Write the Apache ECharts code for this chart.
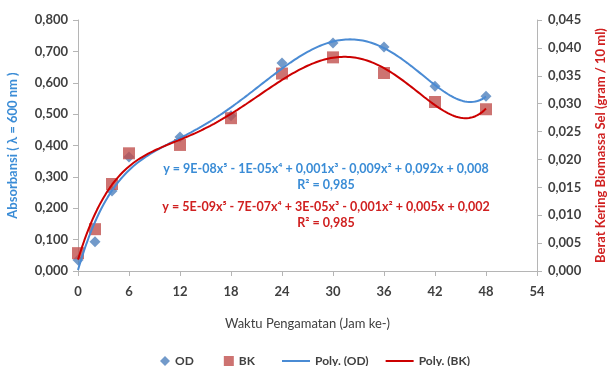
<!DOCTYPE html>
<html>
<head>
<meta charset="utf-8">
<script src="https://cdn.jsdelivr.net/npm/echarts@6/dist/echarts.min.js"></script>
<style>
html,body{margin:0;padding:0;background:#fff;}
#chart{width:608px;height:366px;}
</style>
</head>
<body>
<div id="chart"></div>
<script>
// ---- data ----
const hours = [0, 2, 4, 6, 12, 18, 24, 30, 36, 42, 48];
const odValues = [0.035, 0.093, 0.255, 0.363, 0.427, 0.495, 0.663, 0.727, 0.714, 0.589, 0.557];
const bkValues = [0.0032, 0.0075, 0.0156, 0.0211, 0.0226, 0.0274, 0.0354, 0.0383, 0.0355, 0.0303, 0.0290];
const xTicks = [0, 6, 12, 18, 24, 30, 36, 42, 48, 54];
const odEquation = 'y = 9E-08x\u2075 - 1E-05x\u2074 + 0,001x\u00b3 - 0,009x\u00b2 + 0,092x + 0,008';
const bkEquation = 'y = 5E-09x\u2075 - 7E-07x\u2074 + 3E-05x\u00b3 - 0,001x\u00b2 + 0,005x + 0,002';
const rSquaredText = 'R\u00b2 = 0,985';

// least-squares polynomial trendline (degree 5), like the spreadsheet's "Poly." trendline
function polyfit(xs, ys, deg) {
  const s = 48;
  const n = deg + 1;
  const A = [], b = [];
  for (let i = 0; i < n; i++) { A.push(new Array(n).fill(0)); b.push(0); }
  xs.forEach((x, k) => {
    const t = x / s;
    for (let i = 0; i < n; i++) {
      b[i] += Math.pow(t, i) * ys[k];
      for (let j = 0; j < n; j++) A[i][j] += Math.pow(t, i + j);
    }
  });
  for (let c = 0; c < n; c++) {
    let p = c;
    for (let r = c + 1; r < n; r++) if (Math.abs(A[r][c]) > Math.abs(A[p][c])) p = r;
    [A[c], A[p]] = [A[p], A[c]]; [b[c], b[p]] = [b[p], b[c]];
    for (let r = c + 1; r < n; r++) {
      const f = A[r][c] / A[c][c];
      for (let j = c; j < n; j++) A[r][j] -= f * A[c][j];
      b[r] -= f * b[c];
    }
  }
  const coef = new Array(n).fill(0);
  for (let i = n - 1; i >= 0; i--) {
    let v = b[i];
    for (let j = i + 1; j < n; j++) v -= A[i][j] * coef[j];
    coef[i] = v / A[i][i];
  }
  return x => coef.reduce((acc, c, i) => acc + c * Math.pow(x / s, i), 0);
}
const odFit = polyfit(hours, odValues, 5);
const bkFit = polyfit(hours, bkValues, 5);
const odCurve = [], bkCurve = [];
for (let x = 0; x <= 48.0001; x += 0.25) {
  odCurve.push([x, odFit(x)]);
  bkCurve.push([x, bkFit(x)]);
}

const FONT = 'Lato';
const BLUE = '#4F81BD';
const BLUE_LINE = '#4A8BD4';
const RED = '#C0504D';
const RED_LINE = '#CC0000';
const AXIS = '#B5B5B5';
const TEXT = '#404040';
const legendText = { color: TEXT, fontWeight: 'bold', fontSize: 12, fontFamily: FONT };

const chart = echarts.init(document.getElementById('chart'));
chart.setOption({
  animation: false,
  textStyle: { fontFamily: FONT },
  grid: { left: 78, right: 71, top: 20, bottom: 95, containLabel: false, outerBoundsMode: 'none' },
  xAxis: {
    type: 'value', min: 0, max: 54, interval: 6,
    name: 'Waktu Pengamatan (Jam ke-)', nameLocation: 'middle', nameGap: 46,
    nameTextStyle: { color: TEXT, fontSize: 13, fontFamily: FONT },
    axisLine: { show: true, lineStyle: { color: AXIS } },
    axisTick: { show: true, length: 5, lineStyle: { color: AXIS } },
    axisLabel: { color: TEXT, fontWeight: 'bold', fontSize: 13, margin: 14,
      formatter: v => xTicks.includes(v) ? String(v) : '' },
    splitLine: { show: false }
  },
  yAxis: [{
    type: 'value', min: 0, max: 0.8, interval: 0.1,
    name: 'Absorbansi ( \u03bb = 600 nm )', nameLocation: 'middle', nameGap: 59, nameRotate: 90,
    nameTextStyle: { color: '#3A8CD6', fontSize: 13, fontWeight: 'bold', fontFamily: FONT },
    axisLine: { show: true, lineStyle: { color: AXIS } },
    axisTick: { show: true, length: 5, lineStyle: { color: AXIS } },
    axisLabel: { color: TEXT, fontWeight: 'bold', fontSize: 13, margin: 10,
      formatter: v => v.toFixed(3).replace('.', ',') },
    splitLine: { show: false }
  }, {
    type: 'value', min: 0, max: 0.045, interval: 0.005, position: 'right',
    name: 'Berat Kering Biomassa Sel (gram / 10 ml)', nameLocation: 'middle', nameGap: 57, nameRotate: 90,
    nameTextStyle: { color: '#D02020', fontSize: 13, fontWeight: 'bold', fontFamily: FONT },
    axisLine: { show: true, lineStyle: { color: AXIS } },
    axisTick: { show: true, length: 5, lineStyle: { color: AXIS } },
    axisLabel: { color: TEXT, fontWeight: 'bold', fontSize: 13, margin: 11,
      formatter: v => v.toFixed(3).replace('.', ',') },
    splitLine: { show: false }
  }],
  legend: [{
    top: 350, left: 155, itemGap: 30, itemWidth: 10, itemHeight: 10,
    textStyle: legendText,
    data: [
      { name: 'OD', icon: 'diamond' },
      { name: 'BK', icon: 'rect' }
    ]
  }, {
    top: 350, left: 277, itemGap: 17, itemWidth: 28, itemHeight: 2,
    textStyle: legendText,
    data: [
      { name: 'Poly. (OD)', icon: 'rect' },
      { name: 'Poly. (BK)', icon: 'rect' }
    ]
  }],
  series: [
    { name: 'OD', type: 'scatter', symbol: 'diamond', symbolSize: 11,
      itemStyle: { color: BLUE }, data: hours.map((h, i) => [h, odValues[i]]), z: 3 },
    { name: 'BK', type: 'scatter', yAxisIndex: 1, symbol: 'rect', symbolSize: 12,
      itemStyle: { color: RED }, data: hours.map((h, i) => [h, bkValues[i]]), z: 3 },
    { name: 'Poly. (OD)', type: 'line', symbol: 'none', smooth: false,
      lineStyle: { color: BLUE_LINE, width: 2 }, itemStyle: { color: BLUE_LINE }, data: odCurve, z: 4 },
    { name: 'Poly. (BK)', type: 'line', yAxisIndex: 1, symbol: 'none', smooth: false,
      lineStyle: { color: RED_LINE, width: 2 }, itemStyle: { color: RED_LINE }, data: bkCurve, z: 4 }
  ],
  graphic: [
    { type: 'text', x: 326, y: 169, style: { text: odEquation, fill: '#3A8CD6', font: 'bold 12.5px ' + FONT, align: 'center', verticalAlign: 'middle' } },
    { type: 'text', x: 326, y: 185, style: { text: rSquaredText, fill: '#3A8CD6', font: 'bold 12.5px ' + FONT, align: 'center', verticalAlign: 'middle' } },
    { type: 'text', x: 326, y: 207, style: { text: bkEquation, fill: '#D02020', font: 'bold 12.5px ' + FONT, align: 'center', verticalAlign: 'middle' } },
    { type: 'text', x: 326, y: 223, style: { text: rSquaredText, fill: '#D02020', font: 'bold 12.5px ' + FONT, align: 'center', verticalAlign: 'middle' } }
  ]
});
</script>
</body>
</html>
